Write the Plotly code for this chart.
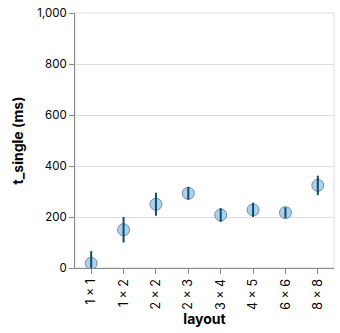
import plotly.graph_objects as go

layouts = ["1 × 1", "1 × 2", "2 × 2", "2 × 3", "3 × 4", "4 × 5", "6 × 6", "8 × 8"]
t_single = [18, 150, 250, 293, 208, 228, 217, 324]
t_err = [48, 50, 45, 25, 27, 28, 21, 38]
y_ticks = [0, 200, 400, 600, 800, 1000]

font = "Inter, sans-serif"
axis_col = "#888888"

fig = go.Figure()
fig.add_trace(go.Scatter(
    x=layouts, y=t_single, mode="markers",
    marker=dict(size=12, color="rgba(158,205,235,0.9)",
                line=dict(color="#7d8c99", width=1)),
    showlegend=False, hoverinfo="skip"))
fig.add_trace(go.Scatter(
    x=layouts, y=t_single, mode="markers",
    marker=dict(size=1, opacity=0),
    error_y=dict(type="data", array=t_err, visible=True, width=0,
                 thickness=2, color="#0e4a6a"),
    showlegend=False, hoverinfo="skip"))

fig.update_layout(
    width=340, height=333,
    margin=dict(l=75, r=6, t=9, b=65),
    plot_bgcolor="white", paper_bgcolor="white",
    font=dict(family=font, size=11, color="#000"),
    xaxis=dict(
        type="category", range=[-0.5, 7.5], tickangle=-90,
        showline=True, linecolor=axis_col, linewidth=1,
        ticks="outside", ticklen=5, tickcolor=axis_col, tickwidth=1,
        showgrid=False, zeroline=False,
        tickfont=dict(family=font, size=12.5, color="#000"),
        title=dict(text="<b>layout</b>", font=dict(family=font, size=14), standoff=2),
    ),
    yaxis=dict(
        range=[0, 1000], tickvals=y_ticks, tickformat=",",
        showline=True, linecolor=axis_col, linewidth=1,
        ticks="outside", ticklen=5, tickcolor=axis_col, tickwidth=1,
        showgrid=True, gridcolor="#dddddd", gridwidth=1, zeroline=False,
        tickfont=dict(family=font, size=11.5, color="#000"),
        title=dict(text="<b>t_single (ms)</b>", font=dict(family=font, size=14), standoff=10),
    ),
    shapes=[dict(type="rect", xref="paper", yref="paper", x0=0, x1=1, y0=0, y1=1,
                 line=dict(color="#dddddd", width=1), layer="below")],
)

fig.write_html("out.html")
